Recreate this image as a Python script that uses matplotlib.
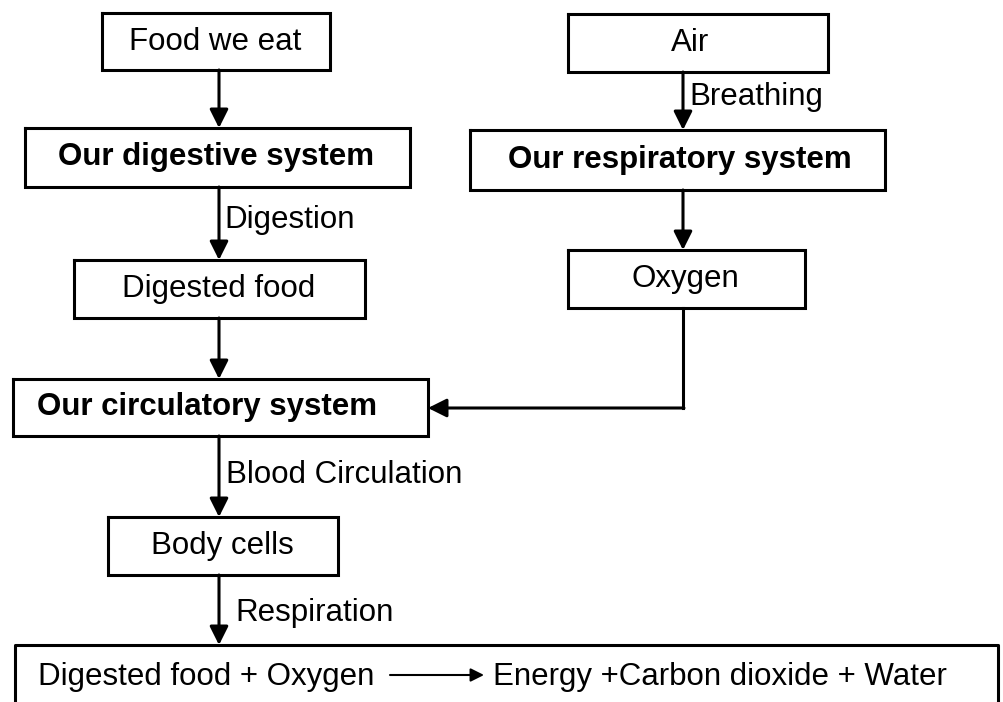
import matplotlib
matplotlib.use('Agg')
import matplotlib.pyplot as plt

plt.rcParams['font.family'] = ['Liberation Sans', 'DejaVu Sans']

# box texts (left column, right column, bottom)
left_labels = ['Food we eat', 'Our digestive system', 'Digested food',
               'Our circulatory system', 'Body cells']
left_bold = [False, True, False, True, False]
right_labels = ['Air', 'Our respiratory system', 'Oxygen']
right_bold = [False, True, False]
arrow_labels = ['Digestion', 'Blood Circulation', 'Respiration', 'Breathing']
equation_lhs = 'Digested food + Oxygen'
equation_rhs = 'Energy +Carbon dioxide + Water'

# layout in pixels (x0, y0, x1, y1), y measured from the top
left_boxes = [(102, 13, 330, 70), (25, 128, 410, 187), (74, 260, 365, 318),
              (13, 379, 428, 436), (108, 517, 338, 575)]
left_text_x = [215, 216, 219, 207, 222]
right_boxes = [(568, 14, 828, 72), (470, 130, 885, 190), (568, 250, 805, 308)]
right_text_x = [690, 680, 685]
bottom_box = (15, 645, 998, 730)
lx, rx = 219, 683
fs = 22.5
lw = 2.2

fig = plt.figure(figsize=(10.04, 7.02), dpi=100)
ax = fig.add_axes([0, 0, 1, 1])
ax.set_xlim(0, 1004)
ax.set_ylim(702, 0)
ax.axis('off')


def box(b, label, tx, bold):
    x0, y0, x1, y1 = b
    ax.plot([x0, x1, x1, x0, x0], [y0, y0, y1, y1, y0], color='k', lw=lw,
            solid_joinstyle='miter')
    ax.text(tx, (y0 + y1) / 2, label, ha='center', va='center', fontsize=fs,
            fontweight='bold' if bold else 'normal')


def arrow(x0, y0, x1, y1, w=lw, ms=28):
    ax.annotate('', xy=(x1, y1), xytext=(x0, y0),
                arrowprops=dict(arrowstyle='-|>', color='k', lw=w,
                                mutation_scale=ms, shrinkA=0, shrinkB=0))


for b, lab, tx, bd in zip(left_boxes, left_labels, left_text_x, left_bold):
    box(b, lab, tx, bd)
for b, lab, tx, bd in zip(right_boxes, right_labels, right_text_x, right_bold):
    box(b, lab, tx, bd)

# bottom box, open at the lower edge
x0, y0, x1, y1 = bottom_box
ax.plot([x0, x0, x1, x1], [y1, y0, y0, y1], color='k', lw=lw)

# left chain
for i in range(len(left_boxes) - 1):
    arrow(lx, left_boxes[i][3], lx, left_boxes[i + 1][1])
arrow(lx, left_boxes[-1][3], lx, bottom_box[1])

# right chain
for i in range(len(right_boxes) - 1):
    arrow(rx, right_boxes[i][3], rx, right_boxes[i + 1][1])
circ = left_boxes[3]
yc = 408
ax.plot([rx, rx], [right_boxes[2][3], yc], color='k', lw=lw)
arrow(rx + 1, yc, circ[2], yc)

# arrow labels
ax.text(lx + 5, 220, arrow_labels[0], ha='left', va='center', fontsize=fs)
ax.text(lx + 7, 475, arrow_labels[1], ha='left', va='center', fontsize=fs)
ax.text(lx + 16, 613, arrow_labels[2], ha='left', va='center', fontsize=fs)
ax.text(rx + 6, 97, arrow_labels[3], ha='left', va='center', fontsize=fs)

# equation line
ax.text(38, 685, equation_lhs, ha='left', va='baseline', fontsize=fs)
arrow(390, 675, 484, 675, w=1.5, ms=20)
ax.text(493, 685, equation_rhs, ha='left', va='baseline', fontsize=fs)

fig.savefig('out.png', dpi=100, facecolor='white')
